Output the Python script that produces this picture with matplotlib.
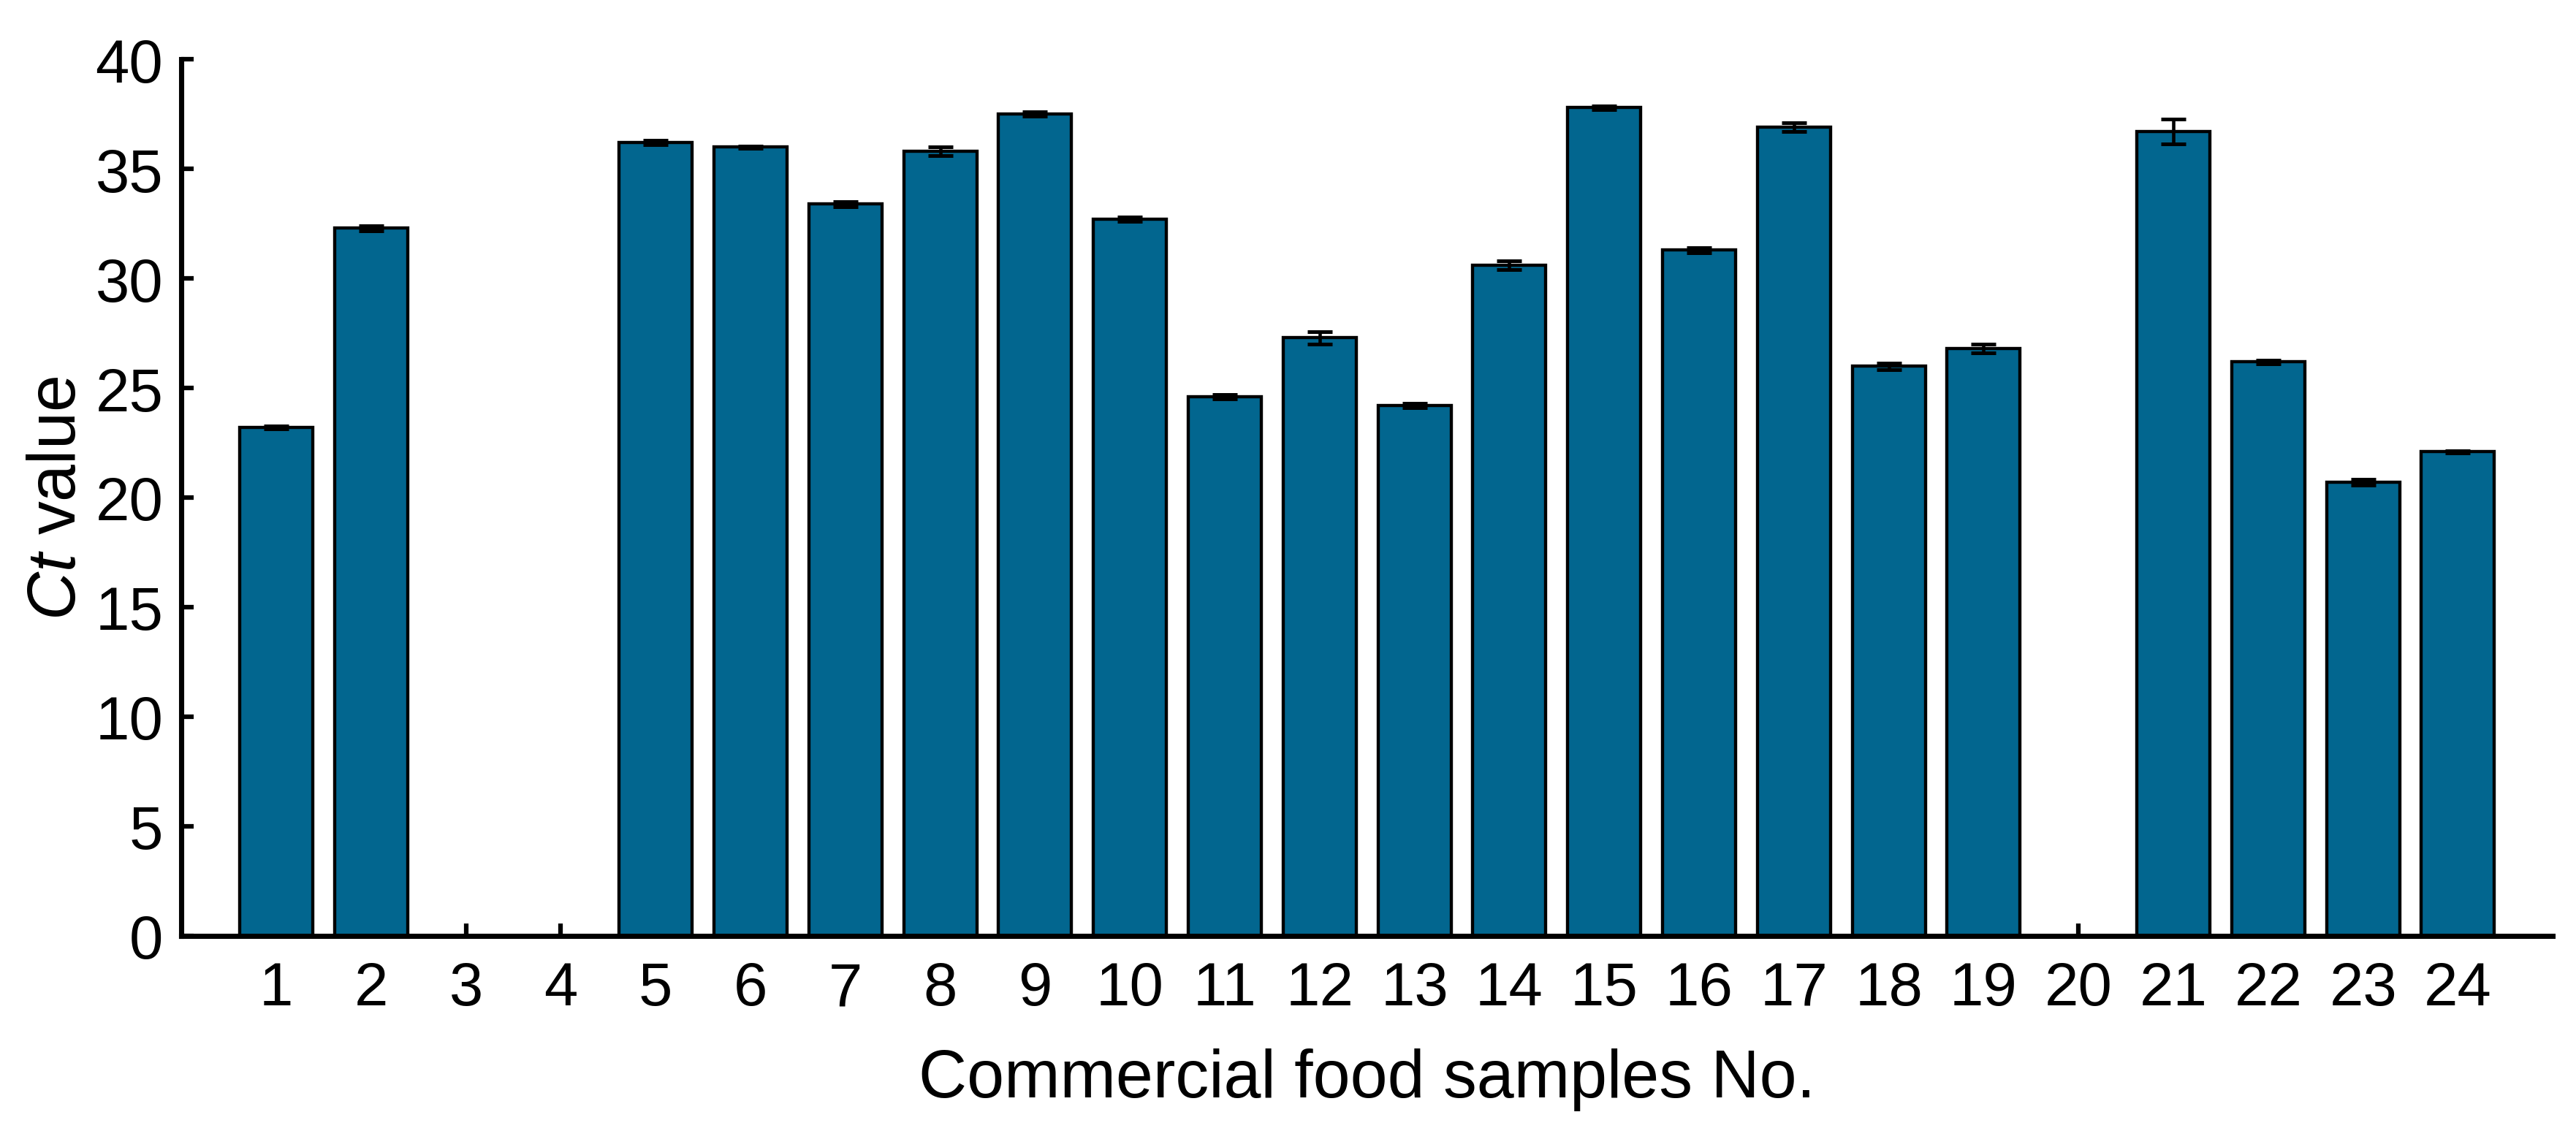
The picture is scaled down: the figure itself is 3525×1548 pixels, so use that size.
import numpy as np
import matplotlib
matplotlib.use('Agg')
import matplotlib.pyplot as plt

plt.rcParams['font.family'] = ['Liberation Sans', 'DejaVu Sans']
plt.rcParams['mathtext.fontset'] = 'custom'
plt.rcParams['mathtext.it'] = 'Liberation Sans:italic'
plt.rcParams['mathtext.rm'] = 'Liberation Sans'

# sample numbers and Ct values (0 = not detected)
samples = list(range(1, 25))
ct_mean = [23.2, 32.3, 0, 0, 36.2, 36.0, 33.4, 35.8, 37.5, 32.7, 24.6, 27.3,
           24.2, 30.6, 37.8, 31.3, 36.9, 26.0, 26.8, 0, 36.7, 26.2, 20.7, 22.1]
ct_err = [0.08, 0.12, 0, 0, 0.1, 0.05, 0.12, 0.2, 0.1, 0.1, 0.1, 0.28,
          0.1, 0.2, 0.08, 0.12, 0.2, 0.15, 0.2, 0, 0.57, 0.08, 0.12, 0.05]

x = np.array(samples)
y = np.array(ct_mean)
e = np.array(ct_err)

fig = plt.figure(figsize=(11.75, 5.163), dpi=300)
ax = fig.add_axes([0.0704, 0.1724, 0.9206, 0.7746])

ax.bar(x, y, width=0.77, color='#02668f', edgecolor='black', linewidth=1.05, zorder=2)
m = y > 0
ax.errorbar(x[m], y[m], yerr=e[m], fmt='none', ecolor='black', elinewidth=1.1,
            capsize=4, capthick=1.2, zorder=3)

ax.set_xlim(0, 25)
ax.set_ylim(0, 40)
ax.set_xticks(samples)
ax.set_yticks(range(0, 41, 5))
ax.spines['top'].set_visible(False)
ax.spines['right'].set_visible(False)
for s in ['left', 'bottom']:
    ax.spines[s].set_linewidth(1.7)
ax.tick_params(direction='in', length=4, width=1.5, labelsize=20)
ax.tick_params(axis='x', pad=8)
ax.tick_params(axis='y', pad=6)

ax.set_xlabel('Commercial food samples No.', fontsize=22, labelpad=10)
ax.set_ylabel(r'$\mathit{Ct}$ value', fontsize=22, labelpad=2)

fig.savefig('out.png', dpi=300)
